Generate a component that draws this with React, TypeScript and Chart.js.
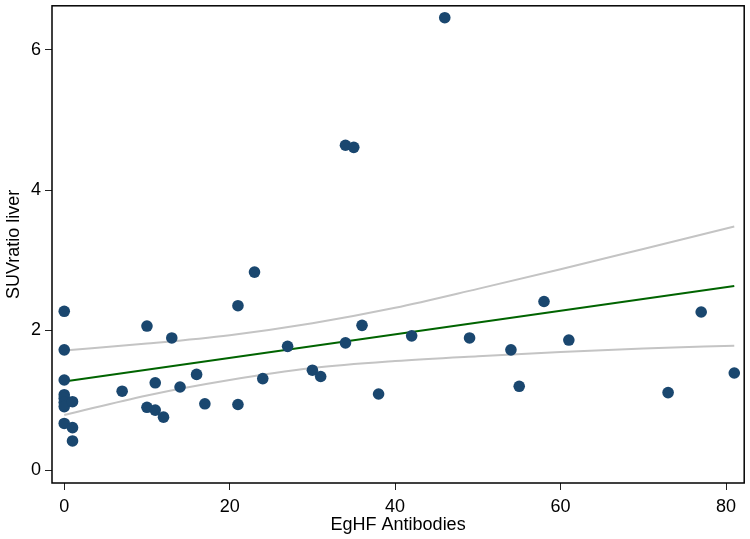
import React, { useEffect, useRef } from "react";
import { Chart, registerables } from "chart.js";

Chart.register(...registerables);

// EgHF antibody titre (x) and SUVratio liver (y) for each patient
const antibodies = [
  0, 0, 0, 0, 0, 0, 0, 0, 1, 1, 1, 7, 10, 10, 11, 11, 12, 13, 14, 16, 17, 21, 21,
  23, 24, 27, 30, 31, 34, 34, 35, 36, 38, 42, 46, 49, 54, 55, 58, 61, 73, 77, 81,
];
const suvRatio = [
  2.27, 1.72, 1.29, 1.08, 1.03, 0.97, 0.91, 0.67, 0.98, 0.61, 0.42, 1.13, 2.06, 0.9,
  1.25, 0.86, 0.76, 1.89, 1.19, 1.37, 0.95, 2.35, 0.94, 2.83, 1.31, 1.77, 1.43, 1.34,
  4.64, 1.82, 4.61, 2.07, 1.09, 1.92, 6.46, 1.89, 1.72, 1.2, 2.41, 1.86, 1.11, 2.26,
  1.39,
];

// Linear fit line
const fitX = [0, 81];
const fitY = [1.27, 2.63];

// 95% confidence band
const bandX = [0, 10, 20, 30, 40, 50, 60, 70, 81];
const bandUpper = [1.71, 1.81, 1.93, 2.1, 2.32, 2.59, 2.87, 3.16, 3.48];
const bandLower = [0.79, 1.07, 1.29, 1.46, 1.56, 1.63, 1.69, 1.74, 1.78];

const xTicks = [0, 20, 40, 60, 80];
const yTicks = [0, 2, 4, 6];

const FONT = "'Liberation Sans', Arial, 'DejaVu Sans', sans-serif";

const framePlugin = {
  id: "frame",
  afterDatasetsDraw(chart: any) {
    const { ctx, chartArea } = chart;
    ctx.save();
    ctx.strokeStyle = "#000";
    ctx.lineWidth = 1.5;
    ctx.strokeRect(
      chartArea.left,
      chartArea.top,
      chartArea.right - chartArea.left,
      chartArea.bottom - chartArea.top
    );
    ctx.restore();
  },
};

export default function App() {
  const ref = useRef<HTMLCanvasElement | null>(null);

  useEffect(() => {
    if (!ref.current) return;
    const points = antibodies.map((x, i) => ({ x, y: suvRatio[i] }));
    const fit = fitX.map((x, i) => ({ x, y: fitY[i] }));
    const upper = bandX.map((x, i) => ({ x, y: bandUpper[i] }));
    const lower = bandX.map((x, i) => ({ x, y: bandLower[i] }));

    const chart = new Chart(ref.current, {
      type: "scatter",
      data: {
        datasets: [
          {
            label: "SUVratio liver",
            data: points,
            backgroundColor: "#1a476f",
            borderColor: "#1a476f",
            borderWidth: 0,
            pointRadius: 5.8,
            order: 0,
          },
          {
            label: "Fitted values",
            data: fit,
            showLine: true,
            borderColor: "#006400",
            borderWidth: 2,
            pointRadius: 0,
            order: 1,
          },
          {
            label: "Upper CI",
            data: upper,
            showLine: true,
            borderColor: "#c4c4c4",
            borderWidth: 2,
            pointRadius: 0,
            cubicInterpolationMode: "monotone",
            order: 2,
          },
          {
            label: "Lower CI",
            data: lower,
            showLine: true,
            borderColor: "#c4c4c4",
            borderWidth: 2,
            pointRadius: 0,
            cubicInterpolationMode: "monotone",
            order: 3,
          },
        ],
      },
      options: {
        responsive: false,
        animation: false,
        devicePixelRatio: 1,
        layout: { padding: { top: 2, right: 4, left: 0, bottom: 0 } },
        plugins: {
          legend: { display: false },
          tooltip: { enabled: false },
        },
        scales: {
          x: {
            type: "linear",
            min: -1.48,
            max: 82.2,
            afterBuildTicks: (scale: any) => {
              scale.ticks = xTicks.map((v) => ({ value: v }));
            },
            afterFit: (scale: any) => {
              scale.height = 56;
              scale.paddingLeft = 0;
              scale.paddingRight = 0;
            },
            border: { display: false },
            grid: {
              display: true,
              drawOnChartArea: false,
              drawTicks: true,
              tickLength: 7,
              tickColor: "#222",
              lineWidth: 1,
            },
            ticks: {
              color: "#000",
              padding: 6,
              maxRotation: 0,
              font: { family: FONT, size: 18 },
            },
            title: {
              display: true,
              text: "EgHF Antibodies",
              color: "#000",
              font: { family: FONT, size: 18 },
              padding: { top: 0, bottom: 3 },
            },
          },
          y: {
            type: "linear",
            min: -0.18,
            max: 6.63,
            afterBuildTicks: (scale: any) => {
              scale.ticks = yTicks.map((v) => ({ value: v }));
            },
            afterFit: (scale: any) => {
              scale.width = 52;
              scale.paddingTop = 0;
              scale.paddingBottom = 0;
            },
            border: { display: false },
            grid: {
              display: true,
              drawOnChartArea: false,
              drawTicks: true,
              tickLength: 7,
              tickColor: "#222",
              lineWidth: 1,
            },
            ticks: {
              color: "#000",
              padding: 4,
              font: { family: FONT, size: 18 },
            },
            title: {
              display: true,
              text: "SUVratio liver",
              color: "#000",
              font: { family: FONT, size: 18 },
              padding: { top: 3, bottom: 0 },
            },
          },
        },
      },
      plugins: [framePlugin],
    } as any);

    return () => chart.destroy();
  }, []);

  return (
    <div
      style={{
        position: "fixed",
        left: 0,
        top: 0,
        width: 750,
        height: 539,
        background: "#fff",
      }}
    >
      <canvas ref={ref} width={750} height={539} style={{ display: "block" }} />
    </div>
  );
}
